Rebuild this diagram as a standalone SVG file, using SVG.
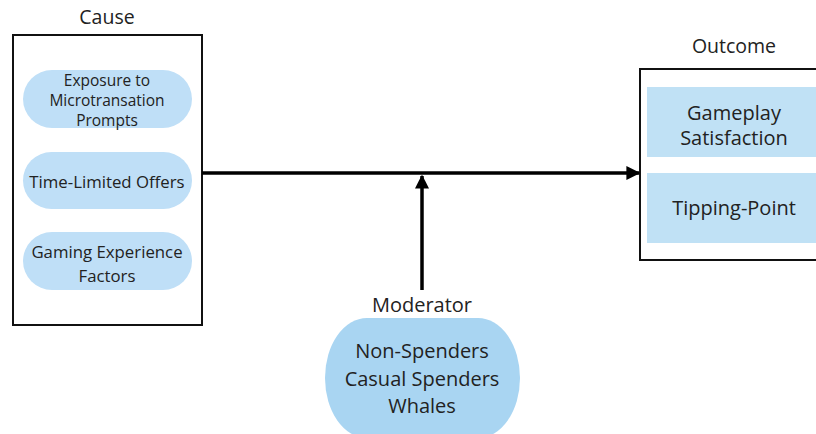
<svg xmlns="http://www.w3.org/2000/svg" width="816" height="434" viewBox="0 0 816 434">
<defs>
<style>
.t{font-family:"Open Sans","Noto Sans","Liberation Sans",sans-serif;fill:#222;text-anchor:middle}
.box{fill:#fff;stroke:#111;stroke-width:2}
.pill{fill:#bfdff7}
.in{fill:#c0e1f5}
.ln{stroke:#000;stroke-width:3.5;fill:none}
</style>
<marker id="ah" viewBox="0 0 10 10" refX="9" refY="5" markerWidth="4" markerHeight="4" orient="auto" markerUnits="strokeWidth">
<path d="M0,0 L10,5 L0,10 z" fill="#000"/>
</marker>
</defs>
<rect width="816" height="434" fill="#fff"/>
<g id="cause">
<text class="t" x="107" y="24" font-size="19.5">Cause</text>
<rect class="box" x="13" y="35" width="189" height="290"/>
<g id="exposure">
<rect class="pill" x="23" y="70" width="169" height="58" rx="29"/>
<text class="t" x="107" y="86" font-size="15.5">Exposure to</text>
<text class="t" x="107" y="106" font-size="15.5">Microtransation</text>
<text class="t" x="107" y="126" font-size="15.5">Prompts</text>
</g>
<g id="offers">
<rect class="pill" x="23" y="152" width="169" height="57" rx="28.5"/>
<text class="t" x="107" y="188" font-size="16.8">Time-Limited Offers</text>
</g>
<g id="gaming">
<rect class="pill" x="23" y="232" width="169" height="58" rx="29"/>
<text class="t" x="107" y="258" font-size="16.8">Gaming Experience</text>
<text class="t" x="107" y="282" font-size="16.8">Factors</text>
</g>
</g>
<g id="outcome">
<text class="t" x="734" y="53" font-size="19.5">Outcome</text>
<rect class="box" x="640" y="69" width="190" height="191"/>
<g id="satisfaction">
<rect class="in" x="647" y="87" width="180" height="70"/>
<text class="t" x="734" y="120" font-size="20">Gameplay</text>
<text class="t" x="734" y="145" font-size="20">Satisfaction</text>
</g>
<g id="tipping">
<rect class="in" x="647" y="173" width="180" height="70"/>
<text class="t" x="734" y="215" font-size="20">Tipping-Point</text>
</g>
</g>
<g id="moderator">
<text class="t" x="422" y="312" font-size="20">Moderator</text>
<rect x="325" y="318" width="195" height="120" rx="42" ry="60" fill="#a9d5f2"/>
<text class="t" x="422" y="358" font-size="20">Non-Spenders</text>
<text class="t" x="422" y="386" font-size="20">Casual Spenders</text>
<text class="t" x="422" y="413" font-size="20">Whales</text>
</g>
<g id="connectors">
<line class="ln" x1="202" y1="173" x2="639" y2="173" marker-end="url(#ah)"/>
<line class="ln" x1="422" y1="290" x2="422" y2="176" marker-end="url(#ah)"/>
</g>
</svg>
